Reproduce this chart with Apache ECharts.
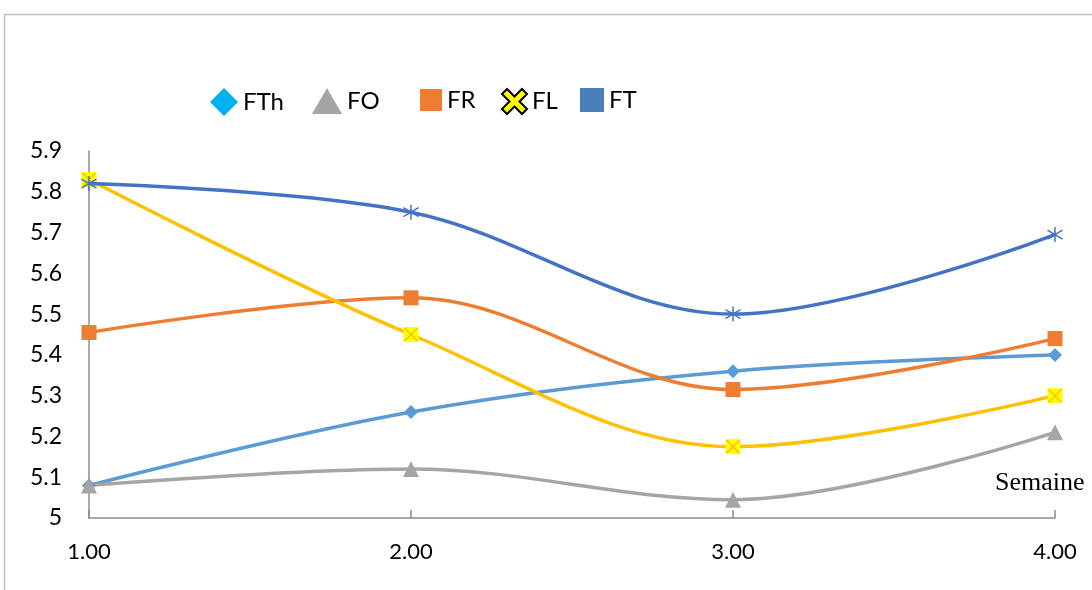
<!DOCTYPE html>
<html><head><meta charset="utf-8">
<script src="https://cdn.jsdelivr.net/npm/echarts@6/dist/echarts.min.js"></script>
<style>html,body{margin:0;padding:0;background:#fff}#c{width:1092px;height:590px}</style>
</head><body><div id="c"></div>
<script>
const weeks = [1, 2, 3, 4];
const FTh = [5.08, 5.26, 5.36, 5.40];
const FO  = [5.08, 5.12, 5.045, 5.21];
const FR  = [5.455, 5.54, 5.315, 5.44];
const FL  = [5.83, 5.45, 5.175, 5.30];
const FT  = [5.82, 5.75, 5.50, 5.695];
const yTicks = ['5', '5.1', '5.2', '5.3', '5.4', '5.5', '5.6', '5.7', '5.8', '5.9'];
const xName = 'Semaine';

const pts = arr => weeks.map((w, i) => [w, arr[i]]);
const chart = echarts.init(document.getElementById('c'));
const astPath = 'path://M10,0L10,20M1,4L19,16M1,16L19,4';
const xPath = 'path://M0,0L20,20M20,0L0,20';
const crossPath = 'path://M2,0L5,3L8,0L10,2L7,5L10,8L8,10L5,7L2,10L0,8L3,5L0,2Z';
const legendFont = {fontFamily: 'Lato, sans-serif', fontSize: 24, color: '#000'};
function lg(left, name, icon, w, h, style) {
  return {left: left, top: 83, itemWidth: w, itemHeight: h, textStyle: legendFont,
    data: [{name: name, icon: icon, itemStyle: style}]};
}
const axisGray = '#8c8c8c';
chart.setOption({
  animation: false,
  grid: {left: 89, right: 37, top: 151, bottom: 72},
  graphic: [{type: 'rect', shape: {x: 4.5, y: 14.5, width: 2000, height: 2000},
    style: {fill: 'none', stroke: '#bfbfbf', lineWidth: 1.5}, silent: true},
    {type: 'text', left: 995, top: 470, style: {text: xName, font: '26px "Liberation Serif", serif', fill: '#000'}}],
  legend: [
    lg(205, 'FTh', 'diamond', 28, 28, {color: '#00B0F0', borderWidth: 0}),
    lg(307, 'FO', 'triangle', 30, 26, {color: '#A5A5A5', borderWidth: 0}),
    lg(415, 'FR', 'rect', 22, 22, {color: '#ED7D31', borderWidth: 0}),
    lg(496, 'FL', crossPath, 25, 25, {color: '#FFFF00', borderColor: '#000', borderWidth: 2}),
    lg(575, 'FT', 'rect', 24, 24, {color: '#4A7EBB', borderWidth: 0})
  ],
  xAxis: {type: 'value', min: 1, max: 4, interval: 1,
    axisLine: {show: true, lineStyle: {color: axisGray, width: 1.5}},
    axisTick: {show: true, inside: true, length: 8, lineStyle: {color: axisGray, width: 1.5}},
    splitLine: {show: false},
    axisLabel: {margin: 23, formatter: v => v.toFixed(2),
      fontFamily: 'Lato, sans-serif', fontSize: 22, color: '#000'}},
  yAxis: {type: 'value', min: 5, max: 5.9, interval: 0.1,
    axisLine: {show: true, lineStyle: {color: axisGray, width: 1.5}},
    axisTick: {show: false}, splitLine: {show: false},
    axisLabel: {margin: 27, formatter: (v) => yTicks[Math.round((v - 5) * 10)],
      fontFamily: 'Lato, sans-serif', fontSize: 23, color: '#000', padding: [10, 0, 0, 0]}},
  series: [
    {name: 'FTh', type: 'line', smooth: 0.35, data: pts(FTh), symbol: 'diamond', symbolSize: 14,
      lineStyle: {color: '#5B9BD5', width: 3.5}, itemStyle: {color: '#5B9BD5'}, z: 2},
    {name: 'FO', type: 'line', smooth: 0.35, data: pts(FO), symbol: 'triangle', symbolSize: 16,
      lineStyle: {color: '#A5A5A5', width: 3.5}, itemStyle: {color: '#A5A5A5'}, z: 2},
    {name: 'FR', type: 'line', smooth: 0.35, data: pts(FR), symbol: 'rect', symbolSize: 15,
      lineStyle: {color: '#ED7D31', width: 3.5}, itemStyle: {color: '#ED7D31'}, z: 3},
    {name: 'FL', type: 'line', smooth: 0.35, data: pts(FL), symbol: 'rect', symbolSize: 15,
      lineStyle: {color: '#FFC000', width: 3.5}, itemStyle: {color: '#FFFF00'}, z: 3},
    {name: 'FLx', type: 'line', smooth: 0.35, data: pts(FL), symbol: xPath, symbolSize: 13,
      lineStyle: {opacity: 0, width: 0}, itemStyle: {color: 'none', borderColor: '#FFC000', borderWidth: 1.5},
      silent: true, z: 4},
    {name: 'FT', type: 'line', smooth: 0.35, data: pts(FT), symbol: astPath, symbolSize: 15,
      lineStyle: {color: '#4472C4', width: 3.5}, itemStyle: {color: 'none', borderColor: '#4472C4', borderWidth: 1.5}, z: 5}
  ]
});
</script></body></html>
